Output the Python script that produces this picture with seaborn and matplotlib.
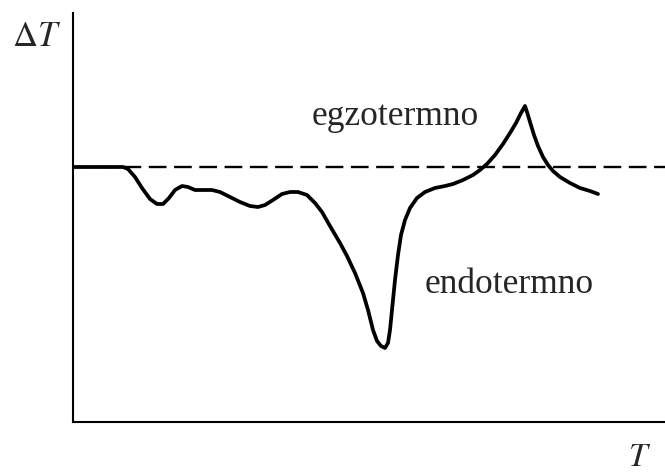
import seaborn as sns
import matplotlib.pyplot as plt
import pandas as pd

# DTA krivulja: temperatura T i razlika temperatura dT (proizvoljne jedinice)
T = [0, 50, 55, 62, 69, 77, 84, 90, 96, 102, 109, 115, 122, 130, 139, 147,
     157, 167, 177, 185, 192, 200, 209, 217, 225, 234, 242, 249, 257, 267,
     274, 282, 290, 295, 300, 304, 308, 312, 315, 317, 319, 322, 325, 328,
     332, 337, 344, 352, 362, 372, 380, 390, 400, 407, 414, 422, 430, 437,
     443, 448, 452, 454, 457, 461, 465, 470, 475, 480, 487, 497, 507, 517, 525]
dT = [0, 0, -2, -10, -21, -32, -37, -37, -31, -23, -19, -20, -23, -23, -23,
      -25, -30, -35, -39, -40, -38, -33, -27, -25, -25, -28, -36, -45, -59,
      -76, -89, -106, -126, -143, -163, -174, -179, -181, -176, -163, -143,
      -113, -88, -68, -53, -41, -31, -25, -21, -19, -17, -13, -8, -3, 3, 12,
      23, 34, 44, 54, 61, 55, 45, 32, 21, 10, 2, -4, -10, -16, -21, -24, -27]

baseline = 0
labels = ['egzotermno', 'endotermno']

df = pd.DataFrame({'T': T, 'dT': dT})

sns.set_style('white')
plt.rcParams['mathtext.fontset'] = 'stix'
plt.rcParams['font.family'] = ['Liberation Serif', 'DejaVu Serif']

fig = plt.figure(figsize=(6.65, 4.73), dpi=100)
ax = fig.add_axes([73 / 665, 51 / 473, 592 / 665, 409 / 473])

ax.axhline(baseline, color='black', lw=1.7, dashes=(7.5, 3.2))
sns.lineplot(data=df, x='T', y='dT', sort=False, color='black', lw=2.7, ax=ax)

ax.set_xlim(0, 592)
ax.set_ylim(-255, 154)
ax.set_xticks([])
ax.set_yticks([])
ax.set_xlabel('')
ax.set_ylabel('')
sns.despine(ax=ax)
for s in ['left', 'bottom']:
    ax.spines[s].set_color('black')
    ax.spines[s].set_linewidth(1.5)

ax.text(239, 42, labels[0], fontsize=25.5, va='baseline', ha='left')
ax.text(352, -126, labels[1], fontsize=25.5, va='baseline', ha='left')

fig.text(12 / 665, (473 - 46) / 473, r'$\Delta T$', fontsize=25, va='baseline')
fig.text(628 / 665, (473 - 466) / 473, r'$T$', fontsize=24, va='baseline')

fig.savefig('out.png', dpi=100)
